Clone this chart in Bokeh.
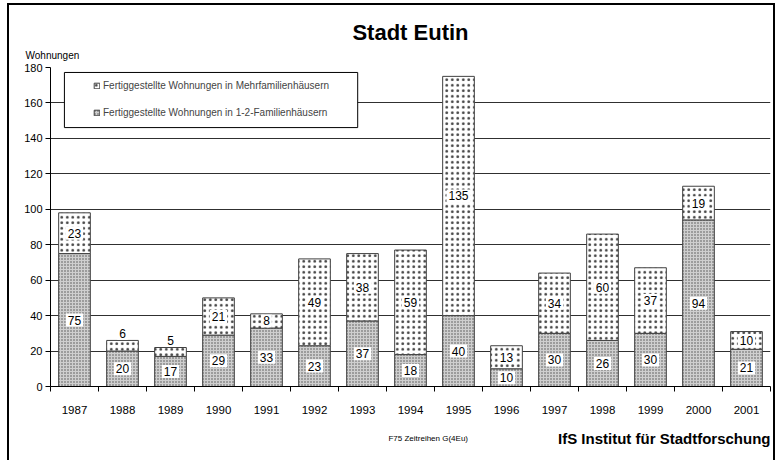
import numpy as np
from bokeh.plotting import figure
from bokeh.layouts import column
from bokeh.models import (ColumnDataSource, Range1d, FixedTicker, Legend, LegendItem,
                          BoxAnnotation, Title)
from bokeh.core.properties import value
from bokeh.embed import file_html
from bokeh.resources import INLINE

# ---- data ----
years = ["1987", "1988", "1989", "1990", "1991", "1992", "1993", "1994",
         "1995", "1996", "1997", "1998", "1999", "2000", "2001"]
einfam = [75, 20, 17, 29, 33, 23, 37, 18, 40, 10, 30, 26, 30, 94, 21]   # 1-2-Familienhäuser
mehrfam = [23, 6, 5, 21, 8, 49, 38, 59, 135, 13, 34, 60, 37, 19, 10]   # Mehrfamilienhäuser
y_ticks = [0, 20, 40, 60, 80, 100, 120, 140, 160, 180]

label_ef = "Fertiggestellte Wohnungen in 1-2-Familienhäusern"
label_mf = "Fertiggestellte Wohnungen in Mehrfamilienhäusern"
footer_left = "F75 Zeitreihen  G(4Eu)"
footer_right = "IfS Institut für Stadtforschung"

FONT = "Liberation Sans"

n = len(years)
xpos = np.arange(n) + 0.5
ef = np.array(einfam, dtype=float)
mf = np.array(mehrfam, dtype=float)

src = ColumnDataSource(dict(x=xpos, ef=ef, mf=mf, year=years))

p = figure(width=768, height=420, output_backend="svg", toolbar_location=None,
           title=None,
           x_range=Range1d(0, n), y_range=Range1d(0, 180),
           min_border_left=41, min_border_right=7, min_border_top=62, min_border_bottom=39)
p.styles = {"border-left": "2px solid black", "border-top": "2px solid black",
            "border-right": "2px solid black", "margin-left": "7px", "margin-top": "3px",
            "background-color": "white"}
p.outline_line_color = None
p.background_fill_color = "white"
p.border_fill_color = "white"

# titles above (first added = nearest to the plot)
p.add_layout(Title(text="Wohnungen", align="left", offset=-25, standoff=13,
                   text_font=FONT, text_font_size="10px", text_font_style="normal",
                   text_color="black"), "above")
p.add_layout(Title(text="Stadt Eutin", align="center", standoff=-7,
                   text_font=FONT, text_font_size="22px", text_font_style="bold",
                   text_color="black"), "above")

# grid
p.xgrid.visible = False
p.ygrid.ticker = FixedTicker(ticks=y_ticks[1:-1])
p.ygrid.grid_line_color = "#303030"
p.ygrid.grid_line_width = 1

# stacked bars
rs = p.vbar_stack(["ef", "mf"], x="x", width=0.66, source=src,
                  fill_color=["#cfcfcf", "white"],
                  line_color=["#404040", "#404040"], line_width=1,
                  hatch_pattern=["dot", "dot"],
                  hatch_scale=[3, 5.5], hatch_weight=[1.2, 0.8],
                  hatch_color=["#505050", "#404040"])

# value labels
y_ef = ef / 2
y_mf = np.where(mf < 8, ef + mf + 4, ef + mf / 2)
lab_src = ColumnDataSource(dict(
    x=np.concatenate([xpos, xpos]),
    y=np.concatenate([y_ef, y_mf]),
    t=[str(int(v)) for v in einfam] + [str(int(v)) for v in mehrfam]))
p.text(x="x", y="y", text="t", source=lab_src, text_align="center",
       text_baseline="middle", text_font=value(FONT), text_font_size="12px",
       text_color="black", background_fill_color="white", background_fill_alpha=1.0,
       padding=2)

# axes
p.yaxis.ticker = FixedTicker(ticks=y_ticks)
p.yaxis.axis_line_color = "black"
p.yaxis.major_tick_line_color = "black"
p.yaxis.major_tick_out = 5
p.yaxis.major_tick_in = 0
p.yaxis.minor_tick_line_color = None
p.yaxis.major_label_text_font = FONT
p.yaxis.major_label_text_font_size = "11px"
p.yaxis.major_label_text_color = "black"
p.yaxis.major_label_standoff = 3

p.xaxis.ticker = FixedTicker(ticks=list(xpos), minor_ticks=list(range(n + 1)))
p.xaxis.major_label_overrides = {float(x): y for x, y in zip(xpos, years)}
p.xaxis.axis_line_color = "black"
p.xaxis.major_tick_out = 0
p.xaxis.major_tick_in = 0
p.xaxis.minor_tick_out = 5
p.xaxis.minor_tick_in = 0
p.xaxis.minor_tick_line_color = "black"
p.xaxis.major_label_text_font = FONT
p.xaxis.major_label_text_font_size = "11.5px"
p.xaxis.major_label_text_color = "black"
p.xaxis.major_label_standoff = 14

# legend frame + legend
box = BoxAnnotation(left=0.29, right=6.4, bottom=146.1, top=177.2,
                    fill_color="white", fill_alpha=1.0, line_color="black",
                    line_width=1, line_alpha=1.0)
p.add_layout(box)
legend = Legend(items=[LegendItem(label=label_mf, renderers=[rs[1]]),
                       LegendItem(label=label_ef, renderers=[rs[0]])],
                location=(43, 268), orientation="vertical",
                padding=0, margin=0, spacing=15,
                glyph_width=7, glyph_height=7, label_height=12, label_standoff=3,
                label_text_font=FONT, label_text_font_size="10px",
                border_line_color=None, background_fill_alpha=0)
p.add_layout(legend)

# footer strip (shares the x scale of the chart)
f = figure(width=768, height=37, output_backend="svg", toolbar_location=None,
           title=None, x_range=Range1d(0, n), y_range=Range1d(0, 1),
           x_axis_location=None, y_axis_location=None,
           min_border_left=41, min_border_right=7, min_border_top=0, min_border_bottom=0)
f.styles = {"border-left": "2px solid black", "border-right": "2px solid black",
            "margin-left": "7px", "background-color": "white"}
f.grid.visible = False
f.outline_line_color = None
f.background_fill_color = "white"
f.border_fill_color = "white"
f.text(x=[7.04], y=[0.6], text=[footer_left], text_align="left", text_baseline="middle",
       text_font=value(FONT), text_font_size="8px", text_color="black")
f.text(x=[n], y=[0.6], text=[footer_right], text_align="right", text_baseline="middle",
       text_font=value(FONT), text_font_size="15px", text_font_style="bold",
       text_color="black")

layout = column(p, f, spacing=0)
open("out.html", "w").write(file_html(layout, INLINE))
